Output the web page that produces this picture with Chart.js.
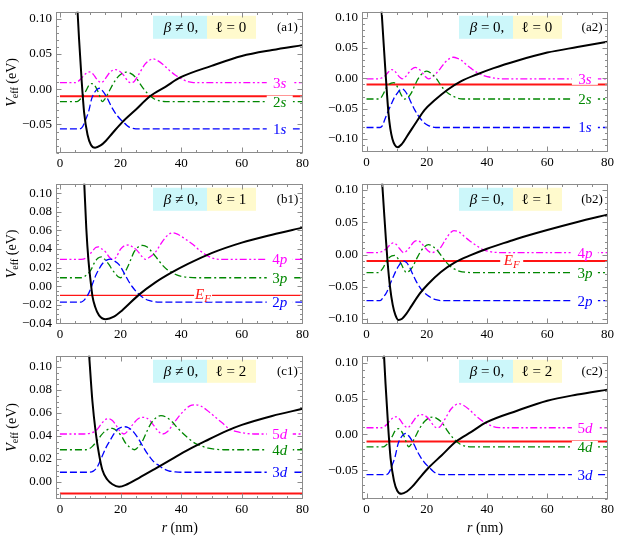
<!DOCTYPE html>
<html>
<head>
<meta charset="utf-8">
<script src="https://cdn.jsdelivr.net/npm/chart.js@4.4.1/dist/chart.umd.min.js"></script>
<style>
  body { margin: 0; background: #fff; }
  #wrap { position: relative; width: 617px; height: 540px; overflow: hidden; }
  #wrap canvas { position: absolute; }
</style>
</head>
<body>
<div id="wrap">
  <canvas id="a1" width="312" height="172" style="left:0;top:0"></canvas>
  <canvas id="a2" width="311" height="172" style="left:306px;top:0"></canvas>
  <canvas id="b1" width="312" height="172" style="left:0;top:172px"></canvas>
  <canvas id="b2" width="311" height="172" style="left:306px;top:172px"></canvas>
  <canvas id="c1" width="312" height="196" style="left:0;top:344px"></canvas>
  <canvas id="c2" width="311" height="196" style="left:306px;top:344px"></canvas>
</div>
<script>
// ---- values: [r (nm), V (eV)] ----
const xTicks = [0, 20, 40, 60, 80];
const a1YTicks = [-0.05, 0, 0.05, 0.10];
const a2YTicks = [-0.10, -0.05, 0, 0.05, 0.10];
const b1YTicks = [-0.04, -0.02, 0, 0.02, 0.04, 0.06, 0.08, 0.10];
const b2YTicks = [-0.10, -0.05, 0, 0.05, 0.10];
const c1YTicks = [0, 0.02, 0.04, 0.06, 0.08, 0.10];
const c2YTicks = [-0.05, 0, 0.05, 0.10];

const eFermi = -0.01;

const sNames = ['1s', '2s', '3s'];
const pNames = ['2p', '3p', '4p'];
const dNames = ['3d', '4d', '5d'];

// (a1) beta != 0, l = 0
const a1Pot = [[5.8,0.111],[6.3,0.0715],[7.2,0.0099],[8.0,-0.034],[9.1,-0.0645],[10.2,-0.0786],[11.6,-0.0829],[13.4,-0.0797],[15.1,-0.0733],[17.3,-0.0624],[20.5,-0.047],[24.9,-0.0295],[29.8,-0.0097],[34.8,0.0034],[39.7,0.0166],[50,0.033],[60,0.047],[70,0.0555],[80,0.0624]];
const a1S1 = [[0,-0.0563],[6.5,-0.0563],[7.5,-0.053],[8.5,-0.043],[9.5,-0.031],[10.5,-0.013],[11.5,-0.004],[12.5,0.0005],[13.2,0.0013],[14,-0.002],[15,-0.008],[16,-0.016],[17,-0.025],[18,-0.032],[19,-0.038],[20,-0.043],[21,-0.047],[22,-0.051],[23,-0.054],[25,-0.0562],[27,-0.0563],[80,-0.0563]];
const a1S2 = [[0,-0.0176],[5.5,-0.0176],[6.5,-0.015],[7.5,-0.010],[8.5,-0.003],[9.5,0.005],[10.5,0.0079],[11.5,0.005],[12.5,-0.003],[13.3,-0.012],[14,-0.0176],[14.8,-0.014],[16,-0.005],[17.3,0.0057],[18.5,0.014],[19.5,0.019],[20.8,0.023],[21.9,0.0241],[23,0.023],[25,0.0166],[27,0.004],[29,-0.0065],[31,-0.0135],[33,-0.0167],[35,-0.0176],[80,-0.0176]];
const a1S3 = [[0,0.0092],[5,0.0092],[6,0.011],[7,0.015],[8,0.020],[9,0.0235],[9.8,0.0245],[11,0.021],[12,0.015],[13,0.0105],[13.6,0.0092],[14.5,0.012],[15.5,0.018],[16.5,0.024],[17.5,0.027],[18.4,0.0276],[19.5,0.026],[21,0.020],[22.3,0.012],[23.3,0.0092],[24.5,0.011],[26,0.021],[28,0.035],[29.5,0.041],[30.6,0.0429],[32,0.041],[34,0.035],[36,0.027],[38,0.020],[40,0.015],[42,0.011],[44,0.0094],[46,0.0092],[80,0.0092]];

// (a2) beta = 0, l = 0
const a2Pot = [[5.0,0.111],[5.6,0.064],[6.2,0.018],[6.8,-0.026],[7.3,-0.058],[7.9,-0.083],[8.6,-0.100],[9.4,-0.110],[10.3,-0.1135],[11.6,-0.109],[13.8,-0.0927],[16.5,-0.0723],[19.3,-0.052],[22.5,-0.0367],[26.9,-0.0188],[31.3,-0.005],[36.8,0.0067],[42.2,0.0168],[50,0.029],[60,0.0424],[70,0.0515],[80,0.0602]];
const a2S1 = [[0,-0.081],[4.5,-0.081],[5.3,-0.078],[6.1,-0.0673],[7.2,-0.054],[8.3,-0.0417],[9.1,-0.033],[9.95,-0.0265],[10.9,-0.020],[11.8,-0.0173],[12.8,-0.021],[13.8,-0.029],[14.9,-0.041],[16,-0.052],[17.1,-0.061],[18.2,-0.0682],[19.3,-0.074],[20.4,-0.0774],[21.8,-0.080],[23,-0.081],[80,-0.081]];
const a2S2 = [[0,-0.0341],[4,-0.0341],[4.8,-0.032],[5.6,-0.0254],[6.4,-0.017],[7.2,-0.0112],[8.2,-0.0078],[9.1,-0.0071],[10,-0.012],[10.7,-0.0188],[11.7,-0.029],[12.7,-0.0341],[13.8,-0.031],[14.9,-0.0239],[16,-0.012],[17.1,-0.001],[18.5,0.008],[20,0.0118],[21.5,0.008],[23.1,0.0],[24.5,-0.010],[25.8,-0.0188],[27.2,-0.025],[28.6,-0.029],[30.2,-0.0325],[32,-0.0341],[80,-0.0341]];
const a2S3 = [[0,-0.0009],[4,-0.0009],[5,0.0005],[6.1,0.004],[7.2,0.010],[8.3,0.0144],[9.3,0.0125],[10.3,0.006],[11,0.002],[11.8,-0.0009],[13,0.003],[14,0.0092],[15,0.015],[16.2,0.0179],[17.4,0.015],[18.5,0.0095],[19.5,0.003],[20.6,-0.0009],[21.8,0.002],[23,0.0075],[24.5,0.016],[26,0.026],[27.4,0.032],[28.8,0.0347],[30.2,0.033],[31.5,0.0297],[33,0.023],[34.6,0.0168],[36.2,0.011],[37.9,0.0067],[39.5,0.0035],[41.2,0.0017],[43,0.0],[45,-0.0009],[80,-0.0009]];

// (b1) beta != 0, l = 1
const b1Pot = [[8.0,0.112],[8.7,0.0616],[9.4,0.028],[10.2,0.003],[10.7,-0.0104],[11.6,-0.0221],[12.9,-0.0315],[15.1,-0.0356],[17.8,-0.0329],[20.5,-0.0261],[26.0,-0.0094],[31.5,0.004],[36.9,0.0147],[42.4,0.0241],[50,0.0355],[60,0.0468],[70,0.0553],[80,0.0629]];
const b1P2 = [[0,-0.0171],[7,-0.0171],[8,-0.015],[9,-0.0105],[9.6,-0.007],[10.7,0.002],[11.8,0.0114],[13,0.019],[14,0.0241],[15.4,0.028],[16.7,0.0291],[18,0.027],[19.5,0.0231],[20.5,0.018],[21.6,0.0114],[22.7,0.005],[23.8,-0.0004],[25.2,-0.006],[26.6,-0.0104],[28,-0.0135],[29.3,-0.0154],[31,-0.0167],[33,-0.0171],[80,-0.0171]];
const b1P3 = [[0,0.009],[7,0.009],[8.2,0.0105],[9.6,0.0147],[10.5,0.019],[11.3,0.0247],[12.5,0.030],[13.7,0.0315],[15,0.028],[16.2,0.023],[17.3,0.0175],[18.4,0.013],[19.2,0.010],[20,0.009],[21,0.0125],[22.2,0.0197],[23.3,0.028],[24.4,0.0365],[25.8,0.042],[27.3,0.0438],[28.8,0.042],[30.4,0.0365],[32,0.030],[33.7,0.023],[35.3,0.018],[37,0.0147],[38.5,0.012],[40.2,0.0105],[42.4,0.0095],[45,0.009],[80,0.009]];
const b1P4 = [[0,0.0288],[7,0.0288],[8.5,0.030],[9.6,0.0332],[10.8,0.038],[11.8,0.0415],[12.7,0.0422],[13.8,0.040],[15.1,0.0365],[16.3,0.031],[17.3,0.0288],[18.5,0.031],[20,0.0398],[21.3,0.0435],[22.7,0.0442],[24,0.042],[25.5,0.0382],[27,0.032],[28.2,0.0288],[29.5,0.031],[31.5,0.0365],[33,0.044],[34.2,0.0498],[35.8,0.0555],[37.3,0.0573],[39,0.0555],[41.5,0.0503],[44,0.0445],[46,0.0385],[48,0.034],[50.2,0.0302],[53,0.0288],[80,0.0288]];

// (b2) beta = 0, l = 1
const b2Pot = [[5.2,0.111],[5.8,0.068],[6.4,0.026],[7.0,-0.012],[7.8,-0.050],[8.7,-0.078],[9.6,-0.094],[10.6,-0.1015],[11.8,-0.0995],[13.2,-0.092],[14.9,-0.080],[17.6,-0.0609],[20.3,-0.0464],[24.7,-0.0271],[29.1,-0.013],[34.6,-0.001],[40,0.009],[47.7,0.021],[50,0.0245],[60,0.038],[70,0.0505],[80,0.0619]];
const b2P2 = [[0,-0.0715],[4.5,-0.0715],[5.6,-0.066],[6.7,-0.0584],[7.8,-0.046],[8.9,-0.0343],[9.8,-0.025],[10.7,-0.0174],[11.6,-0.012],[12.5,-0.0101],[13.4,-0.013],[14.3,-0.0198],[15.4,-0.031],[16.5,-0.0416],[17.6,-0.050],[18.7,-0.057],[20,-0.0625],[21.4,-0.0667],[23,-0.070],[25,-0.0715],[80,-0.0715]];
const b2P3 = [[0,-0.028],[4,-0.028],[4.8,-0.025],[5.6,-0.0198],[6.5,-0.011],[7.4,-0.0053],[8.4,-0.002],[9.4,-0.0014],[10.4,-0.006],[11.4,-0.0135],[12.3,-0.022],[13.2,-0.028],[14.3,-0.025],[15.4,-0.0184],[16.7,-0.006],[17.9,0.0043],[19.2,0.012],[20.6,0.0155],[22,0.0125],[23.6,0.0058],[25,-0.003],[26.4,-0.0116],[27.8,-0.018],[29.1,-0.0222],[31,-0.026],[33,-0.0275],[35,-0.028],[80,-0.028]];
const b2P4 = [[0,0.0029],[4,0.0029],[5,0.0045],[6.7,0.0095],[7.8,0.015],[8.8,0.018],[9.8,0.016],[11,0.009],[12.3,0.0029],[13.4,0.006],[14.5,0.012],[15.6,0.019],[16.8,0.0215],[18,0.019],[19.2,0.012],[20.4,0.006],[21.5,0.0029],[23,0.005],[24.7,0.0116],[26.2,0.023],[27.7,0.033],[29,0.0372],[30.5,0.0355],[32.4,0.0285],[34,0.022],[35.7,0.0164],[37.4,0.011],[39,0.0068],[41,0.0045],[43,0.0033],[45,0.0029],[80,0.0029]];

// (c1) beta != 0, l = 2
const c1Pot = [[9.6,0.1115],[10.7,0.0705],[11.8,0.0432],[12.9,0.024],[14.0,0.0104],[15.6,0.0022],[17.3,-0.0019],[19.5,-0.0042],[22.2,-0.0019],[26.0,0.0035],[31.5,0.0117],[36.9,0.0199],[42.4,0.0281],[47.9,0.0355],[55,0.0445],[60,0.0497],[70,0.0575],[80,0.0637]];
const c1D3 = [[0,0.0085],[9.5,0.0085],[11,0.0095],[12.3,0.0131],[13.7,0.021],[15.1,0.0295],[16.5,0.036],[17.8,0.0418],[19,0.046],[20,0.0473],[21.3,0.0481],[22.6,0.0472],[24.4,0.0432],[25.8,0.038],[27.1,0.0322],[28.5,0.026],[29.8,0.0213],[31.2,0.017],[32.6,0.0145],[34.2,0.0115],[35.8,0.0098],[38,0.0088],[41,0.0085],[80,0.0085]];
const c1D4 = [[0,0.0281],[8.5,0.0281],[9.7,0.029],[10.7,0.031],[12,0.035],[13.4,0.040],[15,0.0445],[17.3,0.0467],[19,0.044],[20.5,0.0391],[21.6,0.034],[22.7,0.031],[24.6,0.0281],[26,0.031],[27.1,0.035],[28.5,0.043],[29.8,0.050],[31.5,0.0555],[33.3,0.0577],[35,0.0565],[36.9,0.0527],[38.5,0.048],[40.2,0.0432],[42.4,0.038],[44.6,0.0336],[47,0.031],[49,0.0295],[51.4,0.0285],[54,0.0281],[80,0.0281]];
const c1D5 = [[0,0.0418],[8,0.0418],[10,0.0425],[12,0.045],[13.5,0.050],[14.8,0.054],[16,0.055],[17.3,0.0535],[18.6,0.049],[19.9,0.044],[21.1,0.0418],[22.4,0.0445],[24,0.050],[25.8,0.055],[27.7,0.0563],[29.5,0.054],[31,0.049],[32.5,0.044],[33.9,0.0418],[35.5,0.044],[37.5,0.051],[39.5,0.058],[41.5,0.0635],[43,0.0665],[44.6,0.0672],[46.5,0.066],[48.5,0.0625],[51,0.057],[53.5,0.0515],[55.7,0.0465],[58,0.044],[61,0.0425],[64,0.0418],[80,0.0418]];

// (c2) beta = 0, l = 2 -- the curves in the figure coincide with (a1)
const c2Pot = a1Pot;
const c2D3 = a1S1;
const c2D4 = a1S2;
const c2D5 = a1S3;

// ---- drawing ----
const SERIF = '"Liberation Serif", "DejaVu Serif", serif';
const font = (size, italic) => (italic ? 'italic ' : '') + size + 'px ' + SERIF;
const BLUE = 'rgb(0,0,255)', GREEN = 'rgb(0,135,0)', MAGENTA = 'rgb(255,0,255)', RED = 'rgb(255,20,20)';
const stateColors = [BLUE, GREEN, MAGENTA];
const stateDashes = [[7, 3], [7, 3, 2, 3], [7, 2.5, 2, 2.5, 2, 2.5]];
const LABEL_R = 72.5;

function drawRuns(ctx, runs, cx, cy, color) {
  let w = 0;
  runs.forEach(r => { ctx.font = r.f; r.w = ctx.measureText(r.t).width; w += r.w; });
  let x = cx - w / 2;
  ctx.fillStyle = color;
  ctx.textBaseline = 'middle';
  ctx.textAlign = 'left';
  runs.forEach(r => { ctx.font = r.f; ctx.fillText(r.t, x, cy + (r.dy || 0)); x += r.w; });
}

function decor(cfg) {
  return {
    id: 'decor',
    beforeDatasetsDraw(chart) {
      const { ctx, chartArea: a } = chart;
      const bx = a.left + 97, by = a.top + 4;
      ctx.save();
      ctx.fillStyle = 'rgb(204,247,250)';
      ctx.fillRect(bx, by, 54, 23);
      ctx.fillStyle = 'rgb(255,250,205)';
      ctx.fillRect(bx + 54, by, 49, 23);
      drawRuns(ctx, [{ t: 'β', f: font(15, true) }, { t: cfg.beta, f: font(15) }], bx + 28, by + 12, '#000');
      drawRuns(ctx, [{ t: 'ℓ', f: font(15) }, { t: ' = ' + cfg.ell, f: font(15) }], bx + 54 + 24, by + 12, '#000');
      drawRuns(ctx, [{ t: cfg.tag, f: font(13) }], a.right - 16, a.top + 16, '#000');
      ctx.restore();
    },
    afterDatasetsDraw(chart) {
      const { ctx, chartArea: a, scales: { x, y } } = chart;
      ctx.save();
      // level names, on a white patch that breaks the line
      cfg.states.forEach((s, i) => {
        const px = x.getPixelForValue(LABEL_R), py = y.getPixelForValue(s[s.length - 1][1]);
        ctx.fillStyle = '#fff';
        ctx.fillRect(px - 13, py - 6, 26, 12);
        const n = cfg.names[i];
        drawRuns(ctx, [{ t: n[0], f: font(15) }, { t: n.slice(1), f: font(15, true) }], px, py + 1, stateColors[i]);
      });
      if (cfg.eFLabelR != null) {
        const px = x.getPixelForValue(cfg.eFLabelR), py = y.getPixelForValue(eFermi);
        ctx.fillStyle = '#fff';
        ctx.fillRect(px - cfg.eFGap / 2, py - 6, cfg.eFGap, 12);
        drawRuns(ctx, [{ t: 'E', f: font(15, true) }, { t: 'F', f: font(11, true), dy: 4 }], px, py, RED);
      }
      // frame with inward ticks on all sides
      const L = Math.round(a.left) + 0.5, R = Math.round(a.right) - 0.5;
      const T = Math.round(a.top) + 0.5, B = Math.round(a.bottom) - 0.5;
      ctx.strokeStyle = '#8c8c8c';
      ctx.lineWidth = 1;
      ctx.strokeRect(L, T, R - L, B - T);
      ctx.beginPath();
      const xt = (v, len) => { const p = Math.round(x.getPixelForValue(v)) + 0.5; ctx.moveTo(p, B); ctx.lineTo(p, B - len); ctx.moveTo(p, T); ctx.lineTo(p, T + len); };
      const yt = (v, len) => { const p = Math.round(y.getPixelForValue(v)) + 0.5; ctx.moveTo(L, p); ctx.lineTo(L + len, p); ctx.moveTo(R, p); ctx.lineTo(R - len, p); };
      for (let v = 0; v <= 80; v += 5) xt(v, v % 20 === 0 ? 5 : 2.5);
      const st = cfg.yMinor;
      for (let k = Math.ceil(y.min / st - 1e-6); k * st <= y.max + 1e-9; k++) {
        const v = k * st;
        const major = cfg.yTicks.some(t => Math.abs(t - v) < 1e-6);
        yt(v, major ? 5 : 2.5);
      }
      ctx.stroke();
      ctx.restore();
    },
    afterDraw(chart) {
      const { ctx, chartArea: a } = chart;
      ctx.save();
      if (cfg.yTitle) {
        ctx.translate(12, (a.top + a.bottom) / 2);
        ctx.rotate(-Math.PI / 2);
        drawRuns(ctx, [{ t: 'V', f: font(14, true) }, { t: 'eff', f: font(10), dy: 3 }, { t: ' (eV)', f: font(14) }], 0, 0, '#000');
        ctx.setTransform(chart.currentDevicePixelRatio, 0, 0, chart.currentDevicePixelRatio, 0, 0);
      }
      if (cfg.xTitle) {
        drawRuns(ctx, [{ t: 'r', f: font(14, true) }, { t: ' (nm)', f: font(14) }], (a.left + a.right) / 2, a.bottom + 29, '#000');
      }
      ctx.restore();
    }
  };
}

const toXY = pts => pts.map(p => ({ x: p[0], y: p[1] }));

function makePanel(cfg) {
  const datasets = [
    { data: toXY(cfg.pot), borderColor: '#000', borderWidth: 2 },
    ...cfg.states.map((s, i) => ({ data: toXY(s), borderColor: stateColors[i], borderWidth: 1.3, borderDash: stateDashes[i] })),
    { data: toXY([[0, eFermi], [80, eFermi]]), borderColor: RED, borderWidth: cfg.eFWidth }
  ];
  datasets.forEach(d => { d.pointRadius = 0; d.fill = false; d.cubicInterpolationMode = 'monotone'; });
  const tickFont = { family: SERIF, size: 13 };
  new Chart(document.getElementById(cfg.id), {
    type: 'line',
    data: { datasets },
    options: {
      responsive: false,
      animation: false,
      events: [],
      layout: { autoPadding: false, padding: { top: cfg.padTop, right: cfg.padRight, left: 0, bottom: 0 } },
      plugins: { legend: { display: false }, tooltip: { enabled: false } },
      scales: {
        x: {
          type: 'linear', min: cfg.xMin, max: cfg.xMax,
          grid: { display: false, drawTicks: false }, border: { display: false },
          ticks: { font: tickFont, color: '#000', padding: 3, maxRotation: 0, autoSkip: false, callback: v => String(v) },
          afterBuildTicks: s => { s.ticks = xTicks.map(v => ({ value: v })); },
          afterFit: s => { s.height = cfg.xH; }
        },
        y: {
          type: 'linear', min: cfg.yMin, max: cfg.yMax,
          grid: { display: false, drawTicks: false }, border: { display: false },
          ticks: { font: tickFont, color: '#000', padding: 4, autoSkip: false,
                   callback: v => (v < -1e-9 ? '\u2212' : '') + Math.abs(v).toFixed(2) },
          afterBuildTicks: s => { s.ticks = cfg.yTicks.map(v => ({ value: v })); },
          afterFit: s => { s.width = 56; }
        }
      }
    },
    plugins: [decor(cfg)]
  });
}

const leftCol = { xMin: -1.3, xMax: 80.33, padRight: 7, yTitle: true, beta: ' \u2260 0,' };
const rightCol = { xMin: -1.5, xMax: 80.2, padRight: 6, yTitle: false, beta: ' = 0,' };

makePanel({ ...leftCol, id: 'a1', tag: '(a1)', ell: '0', pot: a1Pot, states: [a1S1, a1S2, a1S3], names: sNames,
  yMin: -0.0904, yMax: 0.1096, yTicks: a1YTicks, yMinor: 0.01, padTop: 1, xH: 19, eFWidth: 2, xTitle: false });
makePanel({ ...rightCol, id: 'a2', tag: '(a2)', ell: '0', pot: a2Pot, states: [a2S1, a2S2, a2S3], names: sNames,
  yMin: -0.1214, yMax: 0.1096, yTicks: a2YTicks, yMinor: 0.01, padTop: 1, xH: 20, eFWidth: 2, xTitle: false });
makePanel({ ...leftCol, id: 'b1', tag: '(b1)', ell: '1', pot: b1Pot, states: [b1P2, b1P3, b1P4], names: pNames,
  yMin: -0.0407, yMax: 0.110, yTicks: b1YTicks, yMinor: 0.005, padTop: 2, xH: 20, eFWidth: 1.2, xTitle: false,
  eFLabelR: 47.2, eFGap: 18 });
makePanel({ ...rightCol, id: 'b2', tag: '(b2)', ell: '1', pot: b2Pot, states: [b2P2, b2P3, b2P4], names: pNames,
  yMin: -0.1077, yMax: 0.1097, yTicks: b2YTicks, yMinor: 0.01, padTop: 2, xH: 20, eFWidth: 2, xTitle: false,
  eFLabelR: 48.2, eFGap: 23 });
makePanel({ ...leftCol, id: 'c1', tag: '(c1)', ell: '2', pot: c1Pot, states: [c1D3, c1D4, c1D5], names: dNames,
  yMin: -0.01475, yMax: 0.1098, yTicks: c1YTicks, yMinor: 0.005, padTop: 3, xH: 41, eFWidth: 2, xTitle: true });
makePanel({ ...rightCol, id: 'c2', tag: '(c2)', ell: '2', pot: c2Pot, states: [c2D3, c2D4, c2D5], names: dNames,
  yMin: -0.0902, yMax: 0.1096, yTicks: c2YTicks, yMinor: 0.01, padTop: 3, xH: 41, eFWidth: 2, xTitle: true });
</script>
</body>
</html>
